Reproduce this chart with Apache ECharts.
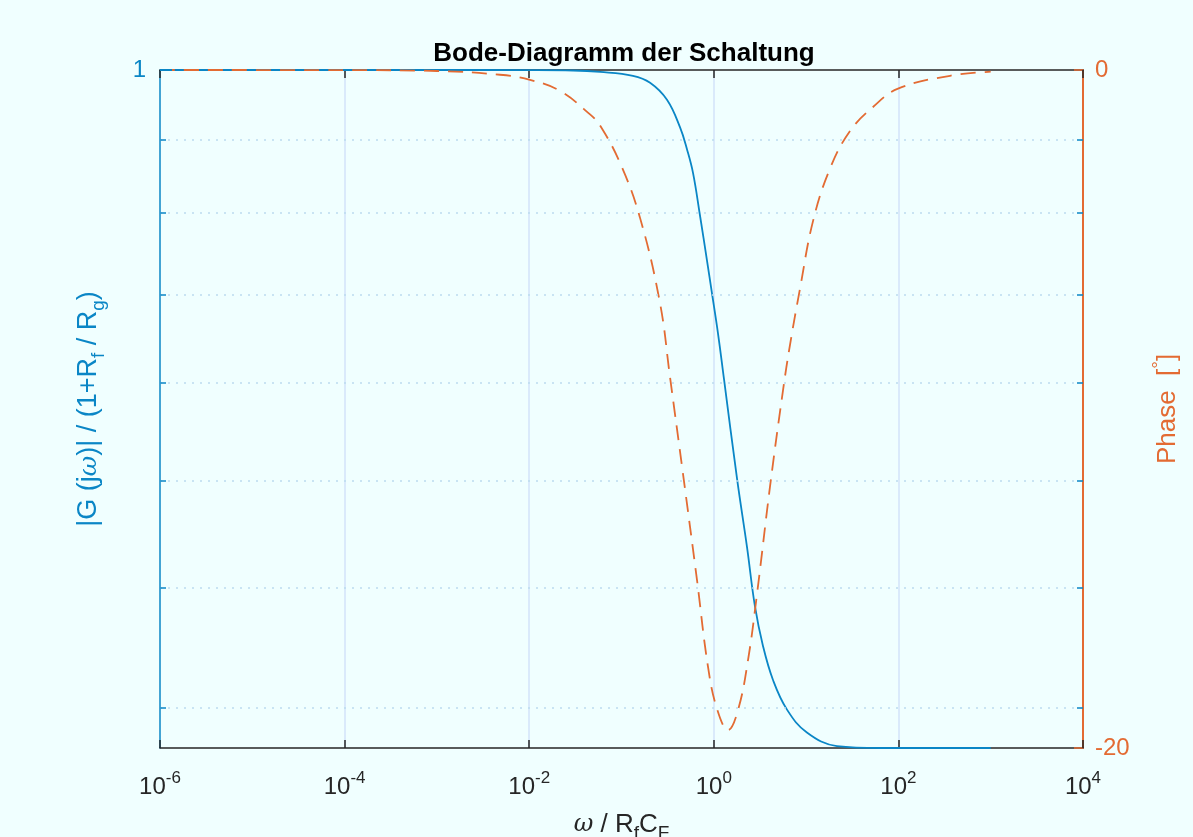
<!DOCTYPE html>
<html>
<head>
<meta charset="utf-8">
<script src="https://cdn.jsdelivr.net/npm/echarts@6/dist/echarts.min.js"></script>
<style>
html, body { margin: 0; padding: 0; background: #f0ffff; overflow: hidden; }
#chart { width: 1193px; height: 837px; }
</style>
</head>
<body>
<div id="chart"></div>
<script>
// ---- data ----
const omegaMag = [1e-6, 1e-4, 1e-3, 0.01, 0.03, 0.0586, 0.133, 0.204, 0.311, 0.431, 0.513, 0.596, 0.708, 0.844, 0.955, 1.11, 1.29, 1.79, 2.29, 2.79, 3.41, 4.38, 6.21, 10.2, 21.6, 63.1, 1000];
const magnitude = [1, 1, 1, 0.9999, 0.9995, 0.998, 0.994, 0.987, 0.970, 0.943, 0.922, 0.900, 0.862, 0.823, 0.796, 0.764, 0.729, 0.658, 0.614, 0.578, 0.555, 0.536, 0.520, 0.508, 0.501, 0.500, 0.500];

const omegaPhase = [1e-6, 1e-4, 1e-3, 0.00483, 0.0102, 0.0216, 0.0456, 0.0586, 0.0964, 0.158, 0.261, 0.335, 0.463, 0.658, 0.865, 1.084, 1.426, 1.83, 2.35, 2.94, 4.06, 5.62, 6.7, 8.59, 11.9, 18.2, 29.9, 53.1, 99.1, 363, 1000];
const phaseDeg = [0, -0.003, -0.03, -0.14, -0.29, -0.62, -1.31, -1.64, -2.74, -4.34, -6.87, -9.05, -11.9, -15.05, -17.6, -18.85, -19.47, -18.88, -17.4, -15.45, -12.3, -9.45, -8.1, -6.45, -4.45, -2.9, -1.8, -1.09, -0.55, -0.17, -0.05];

const magGridValues = [0.931, 0.864, 0.795, 0.726, 0.657, 0.589, 0.521];
const magTopTick = [1];
const xMin = 1e-6, xMax = 1e4;
const magMin = 0.5, magMax = 1;
const phaseMin = -20, phaseMax = 0;

// ---- styling ----
const BLUE = '#0a86c6';
const ORANGE = '#e36b33';
const DARK = '#262626';
const FONT = '"Liberation Sans", Helvetica, Arial, sans-serif';

const tickSpan = Math.pow(10, 0.065);   // short tick length in log-decades
const magData = omegaMag.map((w, i) => [w, magnitude[i]]);
const phaseData = omegaPhase.map((w, i) => [w, phaseDeg[i]]);

const gridLines = [];
magGridValues.forEach(v => {
  gridLines.push([{ coord: [xMin, v], lineStyle: { color: '#bcdcef', type: [2, 6], width: 1.5 } }, { coord: [xMax, v] }]);
  gridLines.push([{ coord: [xMin, v], lineStyle: { color: BLUE, type: 'solid', width: 1.5 } }, { coord: [xMin * tickSpan, v] }]);
  gridLines.push([{ coord: [xMax / tickSpan, v], lineStyle: { color: BLUE, type: 'solid', width: 1.5 } }, { coord: [xMax, v] }]);
});
magTopTick.forEach(v => {
  gridLines.push([{ coord: [xMin, v], lineStyle: { color: BLUE, type: 'solid', width: 2 } }, { coord: [xMin * tickSpan * tickSpan, v] }]);
});

const chart = echarts.init(document.getElementById('chart'), null, { renderer: 'canvas' });

const xLabelRich = {
  b: { fontSize: 24, lineHeight: 34, color: DARK, fontFamily: FONT },
  s: { fontSize: 17, lineHeight: 17, verticalAlign: 'top', color: DARK, fontFamily: FONT }
};

chart.setOption({
  backgroundColor: '#f0ffff',
  animation: false,
  title: {
    text: 'Bode-Diagramm der Schaltung',
    left: 619,
    textAlign: 'center',
    top: 36,
    textStyle: { fontFamily: FONT, fontWeight: 'bold', fontSize: 26, color: '#000' }
  },
  grid: { left: 160, right: 110, top: 70, bottom: 89, outerBoundsMode: 'none', containLabel: false },
  xAxis: [
    {
      type: 'log', min: xMin, max: xMax, interval: 2, logBase: 10,
      position: 'bottom',
      axisLine: { show: true, onZero: false, lineStyle: { color: DARK, width: 1.5 } },
      axisTick: { show: true, inside: true, length: 8, lineStyle: { color: DARK, width: 1.5 } },
      minorTick: { show: false },
      axisLabel: {
        margin: 22, color: DARK, fontFamily: FONT,
        formatter: v => '{b|10}{s|' + Math.round(Math.log10(v)) + '}',
        rich: xLabelRich
      },
      splitLine: { show: true, showMinLine: false, showMaxLine: false, lineStyle: { color: '#d3e3fa', width: 1.5 } },
      name: '{w|ω} / R{sub|f}C{sub|F}',
      nameLocation: 'middle',
      nameGap: 59,
      nameTextStyle: {
        color: DARK, fontFamily: FONT, fontSize: 26, lineHeight: 36,
        rich: {
          w: { fontStyle: 'italic', fontSize: 24, fontFamily: '"DejaVu Serif", serif', color: DARK },
          sub: { fontSize: 19, lineHeight: 19, verticalAlign: 'bottom', color: DARK, fontFamily: FONT }
        }
      }
    },
    {
      type: 'log', min: xMin, max: xMax, interval: 2, logBase: 10,
      position: 'top',
      axisLine: { show: true, onZero: false, lineStyle: { color: DARK, width: 1.5 } },
      axisTick: { show: true, inside: true, length: 8, lineStyle: { color: DARK, width: 1.5 } },
      axisLabel: { show: false },
      splitLine: { show: false }
    }
  ],
  yAxis: [
    {
      type: 'log', min: magMin, max: magMax, logBase: 10,
      position: 'left',
      axisLine: { show: true, onZero: false, lineStyle: { color: BLUE, width: 1.5 } },
      axisTick: { show: false },
      axisLabel: {
        color: BLUE, fontSize: 24, fontFamily: FONT, margin: 14,
        formatter: v => (Math.abs(v - 1) < 1e-6 ? '1' : '')
      },
      splitLine: { show: false },
      name: '|G (j{w|ω})| / (1+R{sub|f} / R{sub|g})',
      nameLocation: 'middle',
      nameRotate: 90,
      nameGap: 52,
      nameTextStyle: {
        color: BLUE, fontFamily: FONT, fontSize: 27, lineHeight: 38,
        rich: {
          w: { fontStyle: 'italic', fontSize: 25, fontFamily: '"DejaVu Serif", serif', color: BLUE },
          sub: { fontSize: 19, lineHeight: 19, verticalAlign: 'bottom', color: BLUE, fontFamily: FONT }
        }
      }
    },
    {
      type: 'value', min: phaseMin, max: phaseMax, interval: 20,
      position: 'right',
      axisLine: { show: true, onZero: false, lineStyle: { color: ORANGE, width: 2 } },
      axisTick: { show: true, inside: true, length: 9, lineStyle: { color: ORANGE, width: 1.5 } },
      axisLabel: { color: ORANGE, fontSize: 24, fontFamily: FONT, margin: 12 },
      splitLine: { show: false },
      name: 'Phase  [{sup|°}]',
      nameLocation: 'middle',
      nameRotate: 90,
      nameGap: 67,
      nameTextStyle: {
        color: ORANGE, fontFamily: FONT, fontSize: 26, lineHeight: 36,
        rich: {
          sup: { fontSize: 19, lineHeight: 19, verticalAlign: 'top', color: ORANGE, fontFamily: FONT }
        }
      }
    }
  ],
  series: [
    {
      name: 'grid',
      type: 'line',
      xAxisIndex: 0, yAxisIndex: 0,
      data: [[xMin, magMax]],
      showSymbol: false,
      symbol: 'none',
      lineStyle: { opacity: 0 },
      silent: true,
      z: 1,
      markLine: {
        silent: true, symbol: 'none', animation: false,
        label: { show: false },
        emphasis: { disabled: true },
        data: gridLines
      }
    },
    {
      name: 'magnitude',
      type: 'line',
      xAxisIndex: 0, yAxisIndex: 0,
      data: magData,
      showSymbol: false,
      smooth: 0.4,
      lineStyle: { color: BLUE, width: 1.8 },
      z: 3
    },
    {
      name: 'phase',
      type: 'line',
      xAxisIndex: 0, yAxisIndex: 1,
      data: phaseData,
      showSymbol: false,
      smooth: 0.4,
      lineStyle: { color: ORANGE, width: 1.8, type: [15, 9] },
      z: 4
    }
  ]
});
</script>
</body>
</html>
